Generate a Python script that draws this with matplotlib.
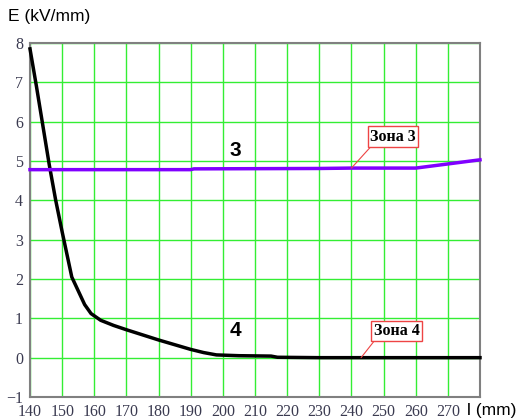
import matplotlib
matplotlib.use("Agg")
import matplotlib.pyplot as plt

plt.rcParams['font.family'] = ['Liberation Serif', 'DejaVu Serif']

# Data
x4 = [140, 142, 144, 146, 148, 150, 153, 155, 157, 159, 162, 166, 170, 175, 180, 185, 190, 194, 198, 205, 215, 217, 230, 250, 280]
y4 = [7.85, 6.9, 5.9, 4.9, 4.0, 3.2, 2.05, 1.7, 1.35, 1.12, 0.95, 0.82, 0.71, 0.58, 0.45, 0.33, 0.21, 0.13, 0.07, 0.05, 0.04, 0.01, 0.0, 0.0, 0.0]
x3 = [140, 190, 191, 230, 240, 260, 280]
y3 = [4.78, 4.78, 4.80, 4.81, 4.82, 4.82, 5.03]
xticks = list(range(140, 280, 10))
yticks = list(range(-1, 9))

fig = plt.figure(figsize=(5.18, 4.19), dpi=100)
ax = fig.add_axes([30/518, 1-397/419, 450/518, (397-43)/419])
ax.set_xlim(140, 280)
ax.set_ylim(-1, 8)
ax.set_xticks(xticks)
ax.set_yticks(yticks)
ax.grid(True, color="#33ee33", linewidth=1.0)
ax.set_axisbelow(True)
for s in ax.spines.values():
    s.set_color("#808080")
    s.set_linewidth(1.5)
ax.tick_params(length=0, labelsize=11.5, colors="#3a3a50")
ax.tick_params(axis="x", pad=5)
ax.tick_params(axis="y", pad=5)

ax.plot(x4, y4, color="black", linewidth=2.5, clip_on=False, zorder=3)
ax.plot(x3, y3, color="#8000ff", linewidth=2.5, clip_on=False, zorder=3)

ax.text(204, 5.27, "3", fontsize=15, fontweight="bold", ha="center", va="center",
        family="Liberation Sans")
ax.text(204, 0.68, "4", fontsize=15, fontweight="bold", ha="center", va="center",
        family="Liberation Sans")

box = dict(boxstyle="square,pad=0.15", fc="white", ec="#ee4444", lw=1)
ax.annotate("Зона 3", xy=(240, 4.82), xytext=(253, 5.62), fontsize=11.5, fontweight="bold",
            ha="center", va="center", bbox=box,
            arrowprops=dict(arrowstyle="-", color="#ee4444", lw=0.8, shrinkA=0, shrinkB=0,
                            relpos=(0.05, 0.0)))
ax.annotate("Зона 4", xy=(243, 0.0), xytext=(254, 0.68), fontsize=11.5, fontweight="bold",
            ha="center", va="center", bbox=box,
            arrowprops=dict(arrowstyle="-", color="#ee4444", lw=0.8, shrinkA=0, shrinkB=0,
                            relpos=(0.05, 0.0)))

fig.text(8/518, 1-16/419, "E (kV/mm)", fontsize=12.5, ha="left", va="center",
         family="Liberation Sans")
fig.text(467/518, 1-410/419, "l (mm)", fontsize=12.5, ha="left", va="center",
         family="Liberation Sans")

fig.savefig("out.png", dpi=100)
